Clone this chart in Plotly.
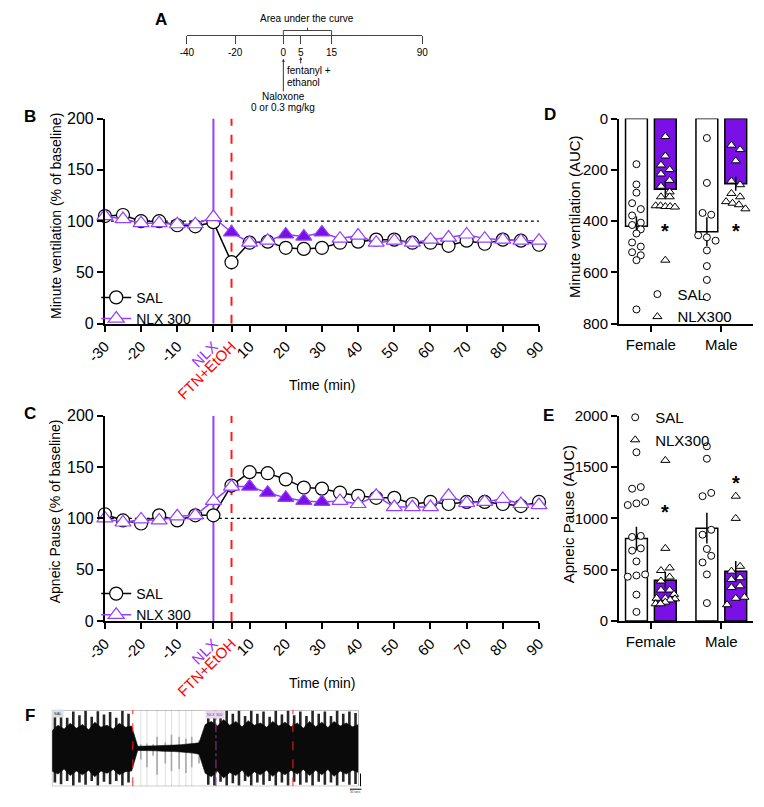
import plotly.graph_objects as go

# ---------------- DATA ----------------
time_min = [-30, -25, -20, -15, -10, -5, 0, 5, 10, 15, 20, 25, 30, 35, 40, 45, 50, 55, 60, 65, 70, 75, 80, 85, 90]
time_tick_vals = [-30, -20, -10, 0, 5, 10, 20, 30, 40, 50, 60, 70, 80, 90]
time_tick_text = ["-30", "-20", "-10", "NLX", "FTN+EtOH", "10", "20", "30", "40", "50", "60", "70", "80", "90"]

# Panel B: minute ventilation (% of baseline)
mv_sal = [105, 106, 100, 100, 96, 95, 99, 60, 79, 80, 74, 73, 74, 79, 80, 82, 82, 79, 79, 76, 81, 78, 82, 81, 77]
mv_nlx = [105, 102, 98, 98, 97, 97, 104, 89, 79, 81, 87, 85, 89, 83, 86, 79, 81, 79, 82, 84, 87, 83, 82, 81, 81]
mv_nlx_sig_times = [5, 20, 25, 30]

# Panel C: apneic pause (% of baseline)
ap_sal = [104, 98, 95, 103, 98, 103, 103, 132, 145, 144, 138, 130, 129, 125, 122, 120, 120, 114, 116, 114, 116, 116, 114, 112, 116]
ap_nlx = [100, 96, 99, 98, 102, 103, 117, 131, 131, 125, 120, 117, 116, 117, 114, 122, 111, 111, 111, 122, 115, 116, 119, 114, 113]
ap_nlx_sig_times = [10, 15, 20, 25, 30]

sexes = ["Female", "Male"]

# Panel D: minute ventilation AUC
mv_auc_sal_female = [178, 257, 289, 330, 353, 378, 406, 415, 432, 448, 483, 499, 521, 533, 552, 744]
mv_auc_nlx_female = [70, 146, 181, 199, 216, 241, 264, 286, 305, 305, 340, 340, 343, 343, 345, 552]
mv_auc_sal_male = [76, 251, 368, 375, 455, 463, 476, 514, 575, 629, 696]
mv_auc_nlx_male = [104, 121, 165, 244, 258, 292, 305, 324, 330, 336, 352]
mv_auc_sal_mean = [420, 441]
mv_auc_sal_sem = [38, 56]
mv_auc_nlx_mean = [276, 254]
mv_auc_nlx_sem = [33, 28]
mv_auc_star = [419, 419]

# Panel E: apneic pause AUC
ap_auc_sal_female = [1644, 1305, 1289, 1159, 1146, 1130, 829, 819, 708, 686, 581, 454, 444, 432, 257, 89]
ap_auc_nlx_female = [1565, 708, 517, 492, 429, 390, 302, 302, 260, 222, 222, 216, 206, 184, 168, 168]
ap_auc_sal_male = [1702, 1581, 1248, 1216, 889, 841, 702, 635, 571, 454, 175]
ap_auc_nlx_male = [1216, 1000, 533, 486, 422, 406, 343, 327, 232, 222, 159]
ap_auc_sal_mean = [803, 905]
ap_auc_sal_sem = [116, 150]
ap_auc_nlx_mean = [397, 486]
ap_auc_nlx_sem = [80, 100]
ap_auc_star = [1111, 1397]

# Panel A: timeline
timeline_labels = ["-40", "-20", "0", "5", "15", "90"]

# Panel F: plethysmography trace envelopes (normalised amplitude)
f_t = [0, 2, 4, 6, 8, 10, 12, 14, 16, 18, 20, 22, 24, 26, 28, 30, 32, 34, 36, 38, 40, 42, 44, 46, 48,
       50, 52, 54, 56, 58, 60, 62, 64, 66, 68, 70, 72, 74, 76, 78, 80, 82, 84, 86, 88, 90, 92, 94, 96, 98, 100]
f_core_hi = [0.45, 0.6, 0.5, 0.65, 0.52, 0.62, 0.48, 0.68, 0.55, 0.6, 0.5, 0.65, 0.55, 0.58,
             0.05, 0.05, 0.06, 0.06, 0.07, 0.07, 0.08, 0.09, 0.1, 0.12, 0.14,
             0.62, 0.7, 0.58, 0.75, 0.6, 0.7, 0.56, 0.72, 0.6, 0.66, 0.55, 0.7, 0.58, 0.68, 0.56,
             0.66, 0.52, 0.7, 0.56, 0.68, 0.54, 0.7, 0.58, 0.66, 0.56, 0.62]
f_core_lo = [-0.6, -0.68, -0.55, -0.72, -0.6, -0.7, -0.58, -0.75, -0.6, -0.66, -0.56, -0.7, -0.62, -0.6,
             -0.06, -0.06, -0.07, -0.07, -0.08, -0.08, -0.09, -0.1, -0.11, -0.13, -0.16,
             -0.66, -0.75, -0.6, -0.78, -0.64, -0.72, -0.58, -0.76, -0.62, -0.7, -0.58, -0.74, -0.6, -0.7, -0.58,
             -0.68, -0.56, -0.72, -0.58, -0.7, -0.56, -0.74, -0.6, -0.68, -0.58, -0.64]
# dark spikes in the dense breathing segments
f_spike_t = [1, 3, 5, 7, 9, 11, 13, 15, 17, 19, 21, 23, 25,
             51, 53, 55, 57, 59, 61, 63, 65, 67, 69, 71, 73, 75, 77, 79, 81, 83, 85, 87, 89, 91, 93, 95, 97, 99]
f_spike_hi = [0.9, 0.98, 0.8, 0.96, 0.86, 0.98, 0.82, 0.97, 0.88, 0.95, 0.8, 0.98, 0.9,
              0.95, 0.98, 0.85, 0.98, 0.9, 0.98, 0.84, 0.98, 0.9, 0.96, 0.82, 0.98, 0.88, 0.98, 0.86,
              0.96, 0.84, 0.98, 0.9, 0.96, 0.84, 0.98, 0.9, 0.96, 0.92]
f_spike_lo = [-0.9, -0.95, -0.86, -0.98, -0.9, -0.96, -0.86, -0.98, -0.88, -0.95, -0.86, -0.98, -0.9,
              -0.96, -0.98, -0.88, -0.98, -0.92, -0.98, -0.86, -0.98, -0.9, -0.96, -0.86, -0.98, -0.9, -0.98, -0.88,
              -0.96, -0.9, -0.98, -0.88, -0.96, -0.9, -0.98, -0.88, -0.96, -0.94]
# light spikes in the depressed segment
f_gspike_t = [29, 31, 33, 34.3, 37, 39, 41.5, 43.7, 45.6, 48]
f_gspike_hi = [0.1, 0.12, 0.1, 0.3, 0.15, 0.35, 0.3, 0.25, 0.3, 0.2]
f_gspike_lo = [-0.3, -0.5, -0.2, -0.7, -0.4, -0.6, -0.55, -0.65, -0.5, -0.4]
f_ftn_times = [26.4, 78.6]
f_nlx_times = [53.5]
f_marker_times = [29, 31, 34.3, 37, 39, 41.5, 43.7, 45.6]

# ---------------- STYLE / LAYOUT HELPERS ----------------
W, H = 764, 807
FONT = "Liberation Sans, Arial, sans-serif"
PURPLE_LINE = "#9340FF"
PURPLE_FILL = "#7A0FE6"
RED = "#FF1A1A"


def px(xp):
    return xp / W


def py(yp):
    return 1 - yp / H


fig = go.Figure()

# ---------- Panels B and C: time courses ----------
for sal, nlx, sig, xa, ya, leg in [(mv_sal, mv_nlx, mv_nlx_sig_times, "x", "y", "legend"),
                                    (ap_sal, ap_nlx, ap_nlx_sig_times, "x2", "y2", "legend2")]:
    fig.add_trace(go.Scatter(
        x=time_min, y=sal, mode="lines+markers", name="SAL", legend=leg,
        line=dict(color="black", width=1.5),
        marker=dict(symbol="circle", size=13, color="white", line=dict(color="black", width=1.2)),
        xaxis=xa, yaxis=ya, cliponaxis=False))
    colors = [PURPLE_FILL if t in sig else "white" for t in time_min]
    fig.add_trace(go.Scatter(
        x=time_min, y=nlx, mode="lines+markers", name="NLX 300", legend=leg,
        line=dict(color=PURPLE_LINE, width=1.5),
        marker=dict(symbol="triangle-up", size=14, color=colors, line=dict(color=PURPLE_LINE, width=1.2)),
        xaxis=xa, yaxis=ya, cliponaxis=False))

# ---------- Panels D and E: AUC bars ----------
BAR_OFF = 0.205
BAR_W = 0.31
PX_PER_XUNIT = (760 - 621) / 1.904


def swarm_offsets(vals, px_per_unit, row_px=8.0, col_px=9.0, max_width_px=20.0, max_group=5):
    order = sorted(range(len(vals)), key=lambda i: vals[i])
    groups, cur = [], []
    for i in order:
        if cur and (vals[i] - vals[cur[0]]) * px_per_unit < row_px and len(cur) < max_group:
            cur.append(i)
        else:
            if cur:
                groups.append(cur)
            cur = [i]
    if cur:
        groups.append(cur)
    offs = [0.0] * len(vals)
    for g in groups:
        n = len(g)
        step = min(col_px, max_width_px / (n - 1)) if n > 1 else 0
        for j, i in enumerate(g):
            offs[i] = (j - (n - 1) / 2) * step / PX_PER_XUNIT
    return offs


def auc_panel(xa, ya, leg, sal_f, sal_m, nlx_f, nlx_m, sal_mean, sal_sem, nlx_mean, nlx_sem, px_per_unit):
    xs_sal = [i - BAR_OFF for i in range(len(sexes))]
    xs_nlx = [i + BAR_OFF for i in range(len(sexes))]
    fig.add_trace(go.Bar(x=xs_sal, y=sal_mean, width=BAR_W, showlegend=False,
                         marker=dict(color="white", line=dict(color="black", width=1.5)),
                         error_y=dict(type="data", array=sal_sem, color="black", thickness=1.5, width=0),
                         xaxis=xa, yaxis=ya))
    fig.add_trace(go.Bar(x=xs_nlx, y=nlx_mean, width=BAR_W, showlegend=False,
                         marker=dict(color=PURPLE_FILL, line=dict(color="black", width=1.5)),
                         error_y=dict(type="data", array=nlx_sem, color="black", thickness=1.5, width=0),
                         xaxis=xa, yaxis=ya))
    sx, sy = [], []
    for base, vals in [(xs_sal[0], sal_f), (xs_sal[1], sal_m)]:
        offs = swarm_offsets(vals, px_per_unit)
        sx += [base + o for o in offs]
        sy += vals
    nx, ny = [], []
    for base, vals in [(xs_nlx[0], nlx_f), (xs_nlx[1], nlx_m)]:
        offs = swarm_offsets(vals, px_per_unit)
        nx += [base + o for o in offs]
        ny += vals
    fig.add_trace(go.Scatter(x=sx, y=sy, mode="markers", name="SAL", legend=leg,
                             marker=dict(symbol="circle", size=7, color="white", line=dict(color="black", width=1)),
                             xaxis=xa, yaxis=ya, cliponaxis=False))
    fig.add_trace(go.Scatter(x=nx, y=ny, mode="markers", name="NLX300", legend=leg,
                             marker=dict(symbol="triangle-up", size=8, color="white", line=dict(color="black", width=1)),
                             xaxis=xa, yaxis=ya, cliponaxis=False))
    return xs_nlx


xs_nlx_d = auc_panel("x3", "y3", "legend3", mv_auc_sal_female, mv_auc_sal_male, mv_auc_nlx_female,
                     mv_auc_nlx_male, mv_auc_sal_mean, mv_auc_sal_sem, mv_auc_nlx_mean, mv_auc_nlx_sem, 210 / 800)
xs_nlx_e = auc_panel("x4", "y4", "legend4", ap_auc_sal_female, ap_auc_sal_male, ap_auc_nlx_female,
                     ap_auc_nlx_male, ap_auc_sal_mean, ap_auc_sal_sem, ap_auc_nlx_mean, ap_auc_nlx_sem, 210 / 2000)


# ---------- Panel F: trace ----------
def spikes(ts, his, los):
    sx, sy = [], []
    for t, hi, lo in zip(ts, his, los):
        sx += [t, t, None]
        sy += [lo, hi, None]
    return sx, sy


gx, gy = spikes(f_gspike_t, f_gspike_hi, f_gspike_lo)
fig.add_trace(go.Scatter(x=gx, y=gy, mode="lines", line=dict(color="#a8a8a8", width=1.6),
                         showlegend=False, xaxis="x5", yaxis="y5", hoverinfo="skip"))
dx, dy = spikes(f_spike_t, f_spike_hi, f_spike_lo)
fig.add_trace(go.Scatter(x=dx, y=dy, mode="lines", line=dict(color="#262626", width=2.6),
                         showlegend=False, xaxis="x5", yaxis="y5", hoverinfo="skip"))
fig.add_trace(go.Scatter(x=f_t, y=f_core_hi, mode="lines", line=dict(color="#0a0a0a", width=0.6),
                         showlegend=False, xaxis="x5", yaxis="y5", hoverinfo="skip"))
fig.add_trace(go.Scatter(x=f_t, y=f_core_lo, mode="lines", line=dict(color="#0a0a0a", width=0.6), fill="tonexty",
                         fillcolor="#0a0a0a", showlegend=False, xaxis="x5", yaxis="y5", hoverinfo="skip"))

# ---------- axes ----------
axis_common = dict(showline=True, linecolor="black", linewidth=2, ticks="outside", ticklen=6, tickwidth=2,
                   tickcolor="black", showgrid=False, zeroline=False, fixedrange=True)

tick_colors = {"NLX": "#9933FF", "FTN+EtOH": "#FF0000"}
time_ticktext = [f'<span style="color:{tick_colors[t]}">{t}</span>' if t in tick_colors else t
                 for t in time_tick_text]

xB = dict(axis_common, domain=[px(88), px(538)], range=[-30, 90], tickvals=time_tick_vals,
          ticktext=time_ticktext, tickangle=-45, tickfont=dict(size=15, family=FONT, color="black"))
yB = dict(axis_common, domain=[py(322), py(112)], range=[0, 200], tickvals=[0, 50, 100, 150, 200],
          tickfont=dict(size=16, family=FONT, color="black"))

layout = dict(
    width=W, height=H, margin=dict(l=0, r=0, t=0, b=0), paper_bgcolor="white", plot_bgcolor="white",
    font=dict(family=FONT, color="black"), barmode="overlay", hovermode=False,
    xaxis=dict(xB, anchor="y"),
    yaxis=dict(yB, anchor="x"),
    xaxis2=dict(xB, anchor="y2"),
    yaxis2=dict(yB, domain=[py(626), py(416)], anchor="x2"),
    xaxis3=dict(axis_common, domain=[px(621), px(760)], range=[-0.452, 1.452], tickvals=[0, 1],
                ticktext=sexes, anchor="y3", tickfont=dict(size=15, family=FONT, color="black")),
    yaxis3=dict(axis_common, domain=[py(322), py(112)], range=[800, 0], tickvals=[0, 200, 400, 600, 800],
                anchor="x3", tickfont=dict(size=15, family=FONT, color="black")),
    xaxis4=dict(axis_common, domain=[px(621), px(760)], range=[-0.452, 1.452], tickvals=[0, 1],
                ticktext=sexes, anchor="y4", tickfont=dict(size=15, family=FONT, color="black")),
    yaxis4=dict(axis_common, domain=[py(626), py(416)], range=[0, 2000], tickvals=[0, 500, 1000, 1500, 2000],
                anchor="x4", tickfont=dict(size=15, family=FONT, color="black")),
    xaxis5=dict(domain=[px(33), px(351)], range=[0, 100], visible=False, anchor="y5", fixedrange=True),
    yaxis5=dict(domain=[py(795), py(717)], range=[-1, 1], visible=False, anchor="x5", fixedrange=True),
    xaxis6=dict(domain=[px(173), px(417)], range=[0, 244], anchor="y6", showline=True, linecolor="#444",
                linewidth=1, ticks="outside", ticklen=8, tickwidth=1, tickcolor="#444", showgrid=False,
                zeroline=False, tickvals=[0, 50, 100, 118, 150, 244], ticktext=timeline_labels,
                tickfont=dict(size=10, family=FONT, color="black"), fixedrange=True),
    yaxis6=dict(domain=[py(27), py(15)], range=[0, 1], visible=False, anchor="x6", fixedrange=True),
)

leg_common = dict(xanchor="left", yanchor="top", bgcolor="rgba(0,0,0,0)", borderwidth=0, traceorder="normal",
                  font=dict(size=14, family=FONT, color="black"))
layout["legend"] = dict(leg_common, x=px(79), y=py(279))
layout["legend2"] = dict(leg_common, x=px(79), y=py(582))
layout["legend3"] = dict(leg_common, x=px(640), y=py(275), font=dict(size=15, family=FONT, color="black"))
layout["legend4"] = dict(leg_common, x=px(617), y=py(401), font=dict(size=15, family=FONT, color="black"))

fig.update_layout(**layout)

# ---------- shapes ----------
shapes = []
for xr, yr in [("x", "y"), ("x2", "y2")]:
    shapes.append(dict(type="line", xref=xr, yref=yr, x0=-30, x1=90, y0=100, y1=100,
                       line=dict(color="black", width=1.3, dash="dot"), layer="below"))
    shapes.append(dict(type="line", xref=xr, yref=yr, x0=0, x1=0, y0=0, y1=200,
                       line=dict(color=PURPLE_LINE, width=2), layer="below"))
    shapes.append(dict(type="line", xref=xr, yref=yr, x0=5, x1=5, y0=0, y1=200,
                       line=dict(color=RED, width=2, dash="dash"), layer="below"))

# panel F frame, markers and events
for t in f_marker_times:
    shapes.append(dict(type="line", xref="x5", yref="y5", x0=t, x1=t, y0=-1, y1=1,
                       line=dict(color="#d4d4d4", width=0.8), layer="below"))
shapes.append(dict(type="rect", xref="x5", yref="y5", x0=0, x1=100, y0=-1, y1=1,
                   line=dict(color="#8a8a8a", width=1)))
for t in f_ftn_times:
    shapes.append(dict(type="line", xref="x5", yref="y5", x0=t, x1=t, y0=-1, y1=1,
                       line=dict(color=RED, width=1, dash="dash")))
for t in f_nlx_times:
    shapes.append(dict(type="line", xref="x5", yref="y5", x0=t, x1=t, y0=-1, y1=1,
                       line=dict(color="#a0309a", width=1, dash="dashdot")))
# scale bar
shapes.append(dict(type="line", xref="paper", yref="paper", x0=px(353), x1=px(353), y0=py(795), y1=py(782),
                   line=dict(color="black", width=1)))
shapes.append(dict(type="line", xref="paper", yref="paper", x0=px(342), x1=px(354), y0=py(798), y1=py(798),
                   line=dict(color="black", width=1)))

# panel A bracket
shapes.append(dict(type="line", xref="x6", yref="paper", x0=100, x1=150, y0=py(22), y1=py(22),
                   line=dict(color="#444", width=1)))
for xv in [100, 150]:
    shapes.append(dict(type="line", xref="x6", yref="paper", x0=xv, x1=xv, y0=py(22), y1=py(27),
                       line=dict(color="#444", width=1)))
shapes.append(dict(type="line", xref="x6", yref="paper", x0=125, x1=125, y0=py(22), y1=py(19),
                   line=dict(color="#444", width=1)))
fig.update_layout(shapes=shapes)

# ---------- annotations ----------
ann = []


def text(x, y, s, size=14, xref="paper", yref="paper", xanchor="center", yanchor="middle", angle=0,
         bold=False, color="black", **kw):
    d = dict(x=x, y=y, xref=xref, yref=yref, text=f"<b>{s}</b>" if bold else s, showarrow=False,
             xanchor=xanchor, yanchor=yanchor, textangle=angle,
             font=dict(size=size, family=FONT, color=color))
    d.update(kw)
    ann.append(d)


# panel letters
for letter, xp, yp in [("A", 146, 11), ("B", 10, 110), ("C", 10, 414), ("D", 549, 108), ("E", 548, 416),
                       ("F", 10, 723)]:
    text(px(xp), py(yp), letter, size=17, bold=True)

# axis titles
text(px(38), py(212), "Minute ventilation (% of baseline)", size=14, angle=-90)
text(px(36), py(514), "Apneic Pause (% of baseline)", size=14, angle=-90)
text(px(313), py(385), "Time (min)", size=14)
text(px(313), py(689), "Time (min)", size=14)
text(px(575), py(212), "Minute ventilation (AUC)", size=15, angle=-90)
text(px(569), py(517), "Apneic Pause (AUC)", size=15, angle=-90)

# asterisks
for xs, ys, xr, yr in [(xs_nlx_d, mv_auc_star, "x3", "y3"), (xs_nlx_e, ap_auc_star, "x4", "y4")]:
    for xv, yv in zip(xs, ys):
        text(xv, yv, "*", size=20, xref=xr, yref=yr, bold=True, yshift=-5)

# panel A texts
text(125, py(10), "Area under the curve", size=10, xref="x6")
text(102, py(63), "fentanyl +", size=10, xref="x6", xanchor="left")
text(102, py(75), "ethanol", size=10, xref="x6", xanchor="left")
text(100, py(90), "Naloxone", size=10, xref="x6")
text(100, py(101), "0 or 0.3 mg/kg", size=10, xref="x6")
ann.append(dict(x=118, y=py(49), xref="x6", yref="paper", ax=0, ay=8, text="", showarrow=True,
                arrowhead=2, arrowsize=0.6, arrowwidth=1, arrowcolor="#333"))
ann.append(dict(x=100, y=py(51), xref="x6", yref="paper", ax=0, ay=34, text="", showarrow=True,
                arrowhead=2, arrowsize=0.6, arrowwidth=1, arrowcolor="#333"))

# panel F tags
text(px(39), py(721), "SAL", size=4, bgcolor="#dddddd", color="#333")
text(px(202), py(722), "NLX 300", size=4, bgcolor="#e8d8ee", color="#a0309a")
text(px(348), py(801), "30 secs", size=3, color="#333")

fig.update_layout(annotations=ann)

fig.write_html("out.html")
